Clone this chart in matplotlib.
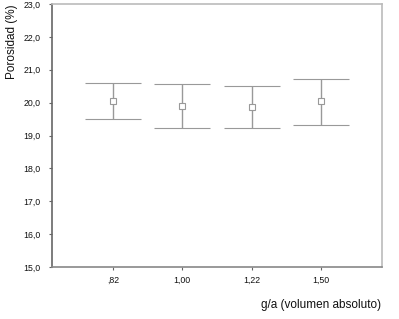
import matplotlib
matplotlib.use("Agg")
import matplotlib.pyplot as plt
from matplotlib import font_manager as fm
import os

categories = [",82", "1,00", "1,22", "1,50"]
means = [20.06, 19.90, 19.87, 20.04]
upper = [20.61, 20.58, 20.50, 20.72]
lower = [19.50, 19.22, 19.22, 19.32]
yticks = [15.0, 16.0, 17.0, 18.0, 19.0, 20.0, 21.0, 22.0, 23.0]

# find regular Liberation Sans (not Narrow)
path = None
for f in fm.findSystemFonts():
    if os.path.basename(f) == "LiberationSans-Regular.ttf":
        path = f
        break

def fp(size):
    if path:
        return fm.FontProperties(fname=path, size=size)
    return fm.FontProperties(family="DejaVu Sans", size=size)

fig = plt.figure(figsize=(3.99, 3.19), dpi=100)
ax = fig.add_axes([52/399, 1 - 267/319, 330/399, 263/319])

x = list(range(len(categories)))
err_low = [m - l for m, l in zip(means, lower)]
err_high = [u - m for m, u in zip(means, upper)]
ax.errorbar(x, means, yerr=[err_low, err_high], fmt='s', color='#999999',
            mfc='white', mec='#999999', ms=5, mew=0.8, ecolor='#999999',
            elinewidth=1.0, capsize=20, capthick=1.0)

ax.set_xlim(-0.88, 3.88)
ax.set_ylim(15.0, 23.0)
ax.set_xticks(x)
ax.set_yticks(yticks)
ax.set_xticklabels(categories, fontproperties=fp(6.3))
ax.set_yticklabels([f"{v:.1f}".replace('.', ',') for v in yticks], fontproperties=fp(6.3))
ax.tick_params(axis='both', length=2.5, width=0.8, color='#666666',
               labelcolor='#111111')
ax.tick_params(axis='x', pad=4)
ax.tick_params(axis='y', pad=5.5)

ax.spines['left'].set_color('#666666')
ax.spines['bottom'].set_color('#888888')
ax.spines['top'].set_color('#bbbbbb')
ax.spines['right'].set_color('#bbbbbb')
for s in ax.spines.values():
    s.set_linewidth(1.2)

fig.text(12/399, 1 - 42/319, "Porosidad (%)", rotation=90, ha='center', va='center',
         fontproperties=fp(8.5), color='#111111')
fig.text(381/399, 1 - 305/319, "g/a (volumen absoluto)", ha='right', va='center',
         fontproperties=fp(8.5), color='#111111')

fig.savefig("out.png", dpi=100)
